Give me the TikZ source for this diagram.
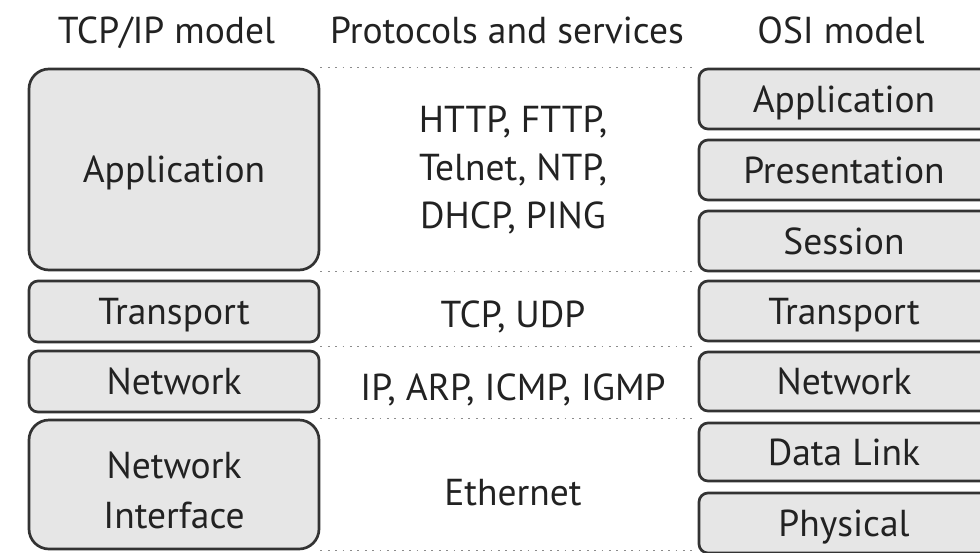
\documentclass[tikz,border=0pt]{standalone}
\usepackage{fontspec}
\setmainfont{PT Sans}
\usetikzlibrary{calc}
\definecolor{boxline}{HTML}{333333}
\definecolor{boxfill}{HTML}{E6E6E6}
\definecolor{txt}{HTML}{222222}
\definecolor{dotc}{HTML}{8C8C8C}
\newcommand{\fs}{\fontsize{37.5}{48}\selectfont}
\begin{document}
\begin{tikzpicture}[x=1pt,y=-1pt,
  box/.style={draw=boxline, fill=boxfill, line width=2.7pt, rounded corners=9pt,
    minimum width=290pt, inner sep=0pt, text=txt, font=\fs,
    text height=26pt, text depth=0pt, anchor=center},
  bigbox/.style={box, rounded corners=20pt},
  lbl/.style={inner sep=0pt, anchor=base, text=txt, font=\fs},
  sep/.style={draw=dotc, line width=1.5pt, dash pattern=on 1.8pt off 5.6pt}]
\useasboundingbox (0,0) rectangle (980,552);
\clip (0,0) rectangle (980,552);
% headers
\node[lbl] (h1) at (166.5,43) {TCP/IP model};
\node[lbl] (h2) at (507,43) {Protocols and services};
\node[lbl] (h3) at (841,43) {OSI model};
% left column
\node[bigbox, minimum height=201pt] (appL) at (174,169.5) {Application};
\node[box, minimum height=61pt] (transL) at (174,311.5) {Transport};
\node[box, minimum height=61pt] (netL) at (174,381.5) {Network};
\node[bigbox, minimum height=129pt, text height=0pt, text depth=0pt] (niL) at (174,484.5)
  {\raisebox{-16pt}[0pt][0pt]{\begin{tabular}{@{}c@{}}Network\\[2pt]Interface\end{tabular}}};
% right column
\node[box, minimum height=60pt] (appR) at (844,99) {Application};
\node[box, minimum height=60pt] (presR) at (844,170) {Presentation};
\node[box, minimum height=60pt] (sesR) at (844,241) {Session};
\node[box, minimum height=60pt] (transR) at (844,311) {Transport};
\node[box, minimum height=59pt] (netR) at (844,381.5) {Network};
\node[box, minimum height=58pt] (dlR) at (844,452) {Data Link};
\node[box, minimum height=60pt] (phyR) at (844,523) {Physical};
% middle column
\node[lbl] (p1) at (513,132) {\begin{tabular}[t]{@{}c@{}}HTTP, FTTP,\\Telnet, NTP,\\DHCP, PING\end{tabular}};
\node[lbl] (p2) at (513,327) {TCP, UDP};
\node[lbl] (p3) at (513,400) {IP, ARP, ICMP, IGMP};
\node[lbl] (p4) at (513,505) {Ethernet};
% separators
\draw[sep] (appL.north east) -- (appL.north east -| appR.west);
\draw[sep] (appL.south east) -- (appL.south east -| sesR.west);
\coordinate (m3) at ($(transL.south east)!.5!(netL.north east)$);
\draw[sep] (m3) -- (m3 -| netR.west);
\draw[sep] (niL.north east) -- (niL.north east -| dlR.west);
\draw[sep] (niL.south east) -- (niL.south east -| phyR.west);
\end{tikzpicture}
\end{document}
